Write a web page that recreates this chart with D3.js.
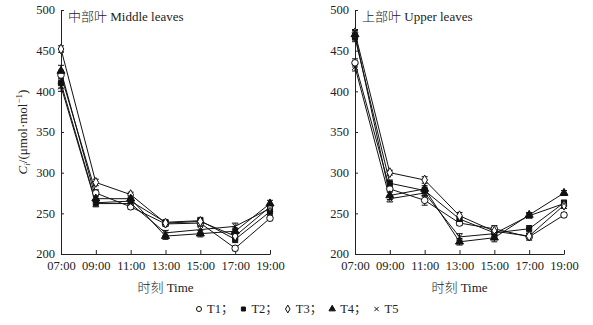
<!DOCTYPE html>
<html><head><meta charset="utf-8">
<script src="https://cdn.jsdelivr.net/npm/d3@7"></script>
<style>
html,body{margin:0;padding:0;background:#fff;}
svg{display:block;}
text{font-family:"Liberation Serif","Times New Roman","Noto Sans CJK SC",serif;fill:#222;}
.cjk{font-family:"Noto Sans CJK SC",sans-serif;font-weight:300;}
</style></head>
<body><svg id="c" width="593" height="325"></svg>
<script>
const times = ["07:00","09:00","11:00","13:00","15:00","17:00","19:00"];
const seriesNames = ["T1","T2","T3","T4","T5"];
const yTicks = [200,250,300,350,400,450,500];
const panelTitlesCn = ["中部叶","上部叶"];
const panelTitlesEn = ["Middle leaves","Upper leaves"];

// Middle leaves
const midT1 = [420,275,258,237,238,207,244];
const midT2 = [410,263,265,239,241,218,252];
const midT3 = [452,288,273,238,240,222,258];
const midT4 = [425,268,268,222,225,228,262];
const midT5 = [406,262,262,226,230,234,256];
const midErr = [[6,4,3,3,3,3,3],[6,4,4,3,4,4,4],[4,4,3,3,3,4,4],[7,4,4,4,4,4,4],[6,4,4,3,4,4,4]];

// Upper leaves
const upT1 = [435,280,266,238,231,221,248];
const upT2 = [466,287,278,243,226,231,263];
const upT3 = [472,300,291,247,228,222,260];
const upT4 = [470,272,280,215,220,248,275];
const upT5 = [430,268,275,221,225,247,262];
const upErr = [[5,4,6,3,4,4,3],[5,4,4,3,4,4,3],[4,3,4,4,4,3,4],[5,5,4,4,5,3,3],[5,4,4,4,5,3,4]];

const panels = [
  {cn: panelTitlesCn[0], en: panelTitlesEn[0], data:[midT1,midT2,midT3,midT4,midT5], err: midErr, x0:61, x1:270, tx:68},
  {cn: panelTitlesCn[1], en: panelTitlesEn[1], data:[upT1,upT2,upT3,upT4,upT5], err: upErr, x0:355, x1:564, tx:362}
];

const svg = d3.select("#c");
const y = d3.scaleLinear().domain([200,500]).range([254,10]);

const symDefs = [
  {type:d3.symbolCircle, size:34, fill:"#fff"},
  {type:d3.symbolSquare, size:26, fill:"#111"},
  {type:d3.symbolDiamond, size:28, fill:"#fff"},
  {type:d3.symbolTriangle, size:28, fill:"#111"},
  {type:d3.symbolX, size:24, fill:"none"}
];

panels.forEach(p => {
  const x = d3.scalePoint().domain(times).range([p.x0,p.x1]).padding(0);
  const g = svg.append("g");
  const ya = g.append("g").attr("transform",`translate(${p.x0},0)`)
    .call(d3.axisLeft(y).tickValues(yTicks).tickSizeInner(-3).tickSizeOuter(0).tickPadding(6));
  ya.selectAll("text").style("font-size","12.5px").attr("dy","0.3em");
  const xa = g.append("g").attr("transform",`translate(0,254)`)
    .call(d3.axisBottom(x).tickSizeInner(-4).tickSizeOuter(0).tickPadding(7));
  xa.selectAll("text").style("font-size","12.5px");
  g.selectAll(".domain,.tick line").attr("stroke","#222");

  const tt = g.append("text").attr("x",p.tx).attr("y",21).style("font-size","13px");
  tt.append("tspan").attr("class","cjk").text(p.cn);
  tt.append("tspan").text(" " + p.en);

  const line = d3.line().x((d,i)=>x(times[i])).y(d=>y(d));
  p.data.forEach((s,k)=>{
    g.append("path").datum(s).attr("d",line).attr("fill","none").attr("stroke","#111").attr("stroke-width",1);
  });
  p.data.forEach((s,k)=>{
    s.forEach((v,i)=>{
      const e = p.err[k][i], cx = x(times[i]);
      g.append("line").attr("x1",cx).attr("x2",cx).attr("y1",y(v-e)).attr("y2",y(v+e)).attr("stroke","#111");
      [v-e,v+e].forEach(w=>g.append("line").attr("x1",cx-3).attr("x2",cx+3).attr("y1",y(w)).attr("y2",y(w)).attr("stroke","#111"));
    });
  });
  p.data.forEach((s,k)=>{
    const sd = symDefs[k];
    g.selectAll(null).data(s).enter().append("path")
      .attr("transform",(d,i)=>`translate(${x(times[i])},${y(d)})`)
      .attr("d",d3.symbol().type(sd.type).size(sd.size))
      .attr("fill",sd.fill).attr("stroke","#111").attr("stroke-width",1);
  });

  const xt = svg.append("text").attr("x",(p.x0+p.x1)/2).attr("y",292).attr("text-anchor","middle")
    .style("font-size","13px");
  xt.append("tspan").attr("class","cjk").text("时刻");
  xt.append("tspan").text(" Time");
});

// y-axis title
const yt = svg.append("text").attr("transform","translate(27,132) rotate(-90)").attr("text-anchor","middle").style("font-size","13px");
yt.append("tspan").style("font-style","italic").text("C");
yt.append("tspan").style("font-style","italic").style("font-size","9px").attr("dy",3).text("i");
yt.append("tspan").attr("dy",-3).text("/(μmol·mol");
yt.append("tspan").style("font-size","9px").attr("dy",-5).text("−1");
yt.append("tspan").attr("dy",5).text(")");

// legend
const lg = svg.append("g").attr("transform","translate(199,313)");
const legSyms = [
  {type:d3.symbolCircle, size:20, fill:"#fff"},
  {type:d3.symbolSquare, size:16, fill:"#111"},
  {type:d3.symbolDiamond, size:18, fill:"#fff"},
  {type:d3.symbolTriangle, size:18, fill:"#111"},
  {type:d3.symbolX, size:14, fill:"none"}
];
let lx = 0;
seriesNames.forEach((n,k)=>{
  const sd = legSyms[k];
  lg.append("path").attr("transform",`translate(${lx},-4)`).attr("d",d3.symbol().type(sd.type).size(sd.size))
    .attr("fill",sd.fill).attr("stroke","#111");
  const t = lg.append("text").attr("x",lx+8).attr("y",0).style("font-size","12.5px").text(n + (k<seriesNames.length-1?"；":""));
  lx += 8 + t.node().getComputedTextLength() + 10;
});
</script></body></html>
